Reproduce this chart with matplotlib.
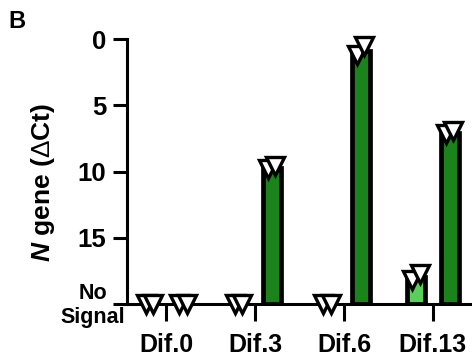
import matplotlib
matplotlib.use("Agg")
import matplotlib.pyplot as plt
import numpy as np

plt.rcParams['font.family'] = ['Liberation Sans', 'DejaVu Sans']
plt.rcParams['mathtext.fontset'] = 'custom'
plt.rcParams['mathtext.bfit'] = 'Liberation Sans:bold:italic'
plt.rcParams['mathtext.rm'] = 'Liberation Sans'

groups = ["Dif.0", "Dif.3", "Dif.6", "Dif.13"]
# replicate dCt values, 20 = "No Signal"
left_reps = [[20, 20], [20, 20], [20, 20], [18.2, 17.7]]
right_reps = [[20, 20], [9.8, 9.6], [1.2, 0.55], [7.2, 6.9]]
ytick_vals = [0, 5, 10, 15, 20]
ytick_labels = ["0", "5", "10", "15", ""]
no_sig_label = "No\nSignal"

light = "#5acd5a"
dark = "#1c831c"
off = 0.19
bw = 0.20
jit = [-0.04, 0.04]
no_sig = 20

fig = plt.figure(figsize=(4.72, 3.62), dpi=100)
ax = fig.add_axes([0.269, 0.160, 0.731, 0.732])

x = np.arange(len(groups))
left_mean = [np.mean(r) for r in left_reps]
right_mean = [np.mean(r) for r in right_reps]

ax.bar(x - off, np.array(left_mean) - no_sig, bottom=no_sig, width=bw,
       color=light, edgecolor='black', linewidth=3.4, zorder=2)
ax.bar(x + off, np.array(right_mean) - no_sig, bottom=no_sig, width=bw,
       color=dark, edgecolor='black', linewidth=3.4, zorder=2)

for i in range(len(groups)):
    for j in range(2):
        ax.plot(x[i] - off + jit[j], left_reps[i][j], marker='v', ms=12.5,
                mfc='white', mec='black', mew=2.4, ls='none', zorder=4,
                clip_on=False)
        ax.plot(x[i] + off + jit[j], right_reps[i][j], marker='v', ms=12.5,
                mfc='white', mec='black', mew=2.4, ls='none', zorder=4,
                clip_on=False)

ax.set_xlim(-0.44, 3.44)
ax.set_ylim(20, 0)
ax.set_yticks(ytick_vals)
ax.set_yticklabels(ytick_labels, fontsize=18.5, fontweight='bold')
ax.set_xticks(x)
ax.set_xticklabels(groups, fontsize=18, fontweight='bold')

ax.tick_params(axis='y', length=10, width=2.2, pad=5)
ax.tick_params(axis='x', length=12, width=2.2, pad=9)
ax.spines['top'].set_visible(False)
ax.spines['right'].set_visible(False)
ax.spines['left'].set_linewidth(2.2)
ax.spines['bottom'].set_linewidth(2.2)

ax.annotate(no_sig_label, xy=(0, no_sig), xycoords=('axes fraction', 'data'),
            xytext=(-1.5, -1), textcoords='offset points', ha='right',
            va='center', multialignment='center', fontsize=15.5,
            fontweight='bold', linespacing=1.15, annotation_clip=False)

fig.text(43 / 472, 1 - 183 / 362, r"$\bfit{N}$ gene ($\Delta$Ct)", rotation=90,
         fontsize=19, fontweight='bold', ha='center', va='center')
fig.text(8 / 472, 1 - 21 / 362, "B", fontsize=17, fontweight='bold',
         ha='left', va='center')

fig.savefig("out.png", dpi=100)
